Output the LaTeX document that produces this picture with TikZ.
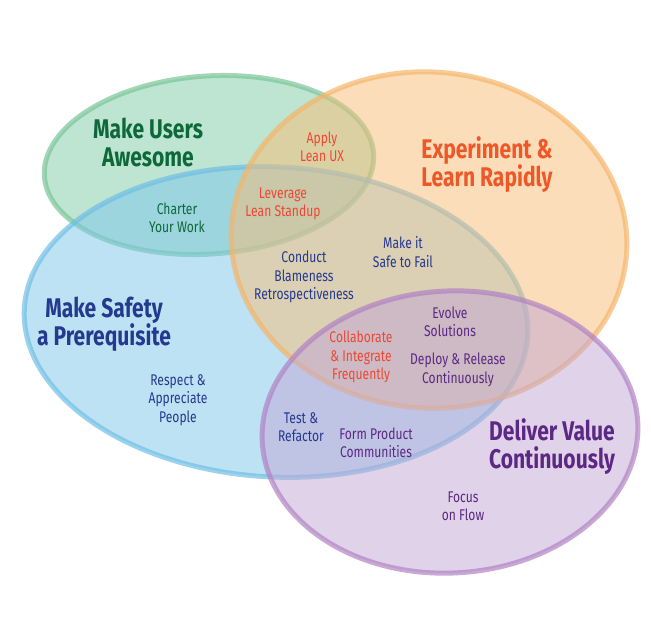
\documentclass[tikz,border=0pt]{standalone}
\usepackage{fontspec}
\setmainfont[FakeStretch=0.78]{Fira Sans}
\usetikzlibrary{positioning}
\definecolor{gfill}{RGB}{125,205,165}
\definecolor{gline}{RGB}{120,196,150}
\definecolor{bfill}{RGB}{125,199,235}
\definecolor{bline}{RGB}{110,190,228}
\definecolor{ofill}{RGB}{249,189,117}
\definecolor{oline}{RGB}{246,180,105}
\definecolor{pfill}{RGB}{193,167,213}
\definecolor{pline}{RGB}{176,128,196}
\definecolor{tgreen}{RGB}{14,104,58}
\definecolor{tred}{RGB}{236,72,52}
\definecolor{torange}{RGB}{238,88,40}
\definecolor{tblue}{RGB}{36,58,143}
\definecolor{tpurple}{RGB}{92,40,132}
\tikzset{
  setbox/.style={line width=5pt, fill opacity=0.5, draw opacity=0.68},
  small/.style={align=center, font=\fontsize{15.5}{18.5}\selectfont, inner sep=0pt},
  big/.style={align=center, font=\fontsize{27}{28}\selectfont\bfseries, inner sep=0pt}
}
\begin{document}
\begin{tikzpicture}[x=1pt,y=-1pt]
\useasboundingbox (0,0) rectangle (651,640);
\fill[white] (0,0) rectangle (651,640);
% ellipses
\draw[setbox, draw=gline, fill=gfill, rotate around={4:(209,165)}] (209,165) ellipse [x radius=165, y radius=89];
\draw[setbox, draw=bline, fill=bfill, rotate around={-3:(276,322)}] (276,322) ellipse [x radius=252, y radius=155];
\draw[setbox, draw=oline, fill=ofill, rotate around={-4:(429,240)}] (429,240) ellipse [x radius=198, y radius=168];
\draw[setbox, draw=pline, fill=pfill, rotate around={3:(450,432)}] (450,432) ellipse [x radius=188, y radius=141];
% labels
\node[big, text=tgreen] (mua) at (148,142) {Make Users\\Awesome};
\node[big, text=torange] (elr) at (487,165) {Experiment \&\\Learn Rapidly};
\node[big, text=tblue] (msp) at (104,324) {Make Safety\\a Prerequisite};
\node[big, text=tpurple] (dvc) at (552,447) {Deliver Value\\Continuously};
\node[small, text=tred] (alu) at (322,147) {Apply\\Lean UX};
\node[small, text=tred] (lls) at (283,204) {Leverage\\Lean Standup};
\node[small, text=tgreen] (cyw) at (177,218) {Charter\\Your Work};
\node[small, text=tblue] (msf) at (403,252) {Make it\\Safe to Fail};
\node[small, text=tblue] (cbr) at (304,277) {Conduct\\Blameness\\Retrospectiveness};
\node[small, text=tpurple] (evs) at (450,322) {Evolve\\Solutions};
\node[small, text=tred] (cif) at (361,357) {Collaborate\\\& Integrate\\Frequently};
\node[small, text=tpurple] (drc) at (458,370) {Deploy \& Release\\Continuously};
\node[small, text=tblue] (rap) at (178,400) {Respect \&\\Appreciate\\People};
\node[small, text=tblue] (trf) at (301,427) {Test \&\\Refactor};
\node[small, text=tpurple] (fpc) at (376,443) {Form Product\\Communities};
\node[small, text=tpurple] (fof) at (463,506) {Focus\\on Flow};
\end{tikzpicture}
\end{document}
